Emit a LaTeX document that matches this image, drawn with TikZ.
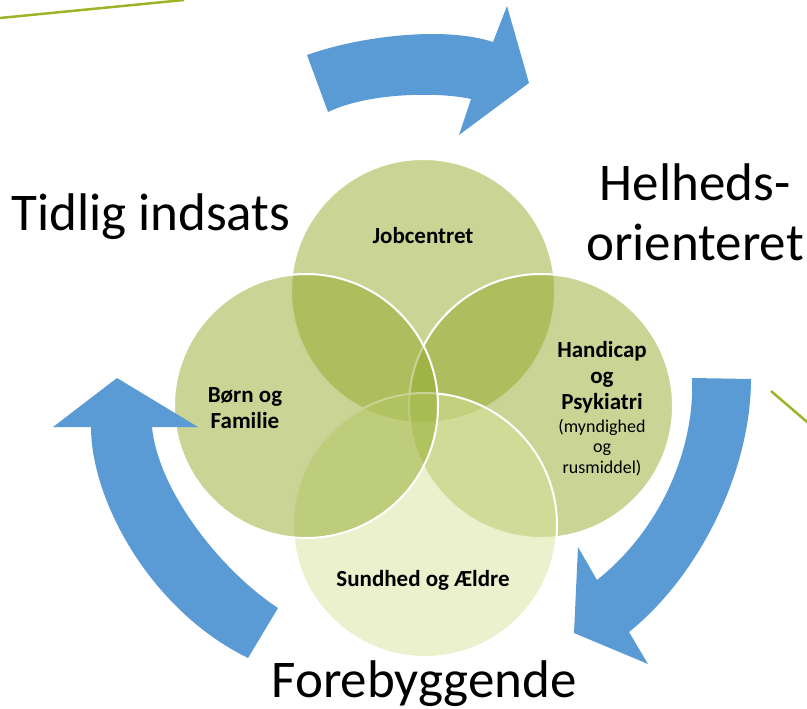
\documentclass[tikz,border=0pt]{standalone}
\usepackage{fontspec}
\setmainfont{Carlito}
\definecolor{vennolive}{HTML}{93A92B}
\definecolor{vennpale}{HTML}{D7E39B}
\definecolor{cyclearrow}{HTML}{5B9BD5}
\definecolor{deco}{HTML}{9BB428}
\tikzset{
  venn/.style={circle,minimum size=264pt,inner sep=0pt,fill opacity=.5,
    draw=white,draw opacity=1,line width=2pt},
  bigtxt/.style={font=\fontsize{53}{60}\selectfont,inner sep=0pt},
  vennlbl/.style={font=\fontsize{23}{26}\selectfont\bfseries,inner sep=0pt,align=center},
  vennnote/.style={font=\fontsize{18}{20.5}\selectfont,inner sep=0pt,align=center},
  cyclearrowfill/.style={fill=cyclearrow}
}
\begin{document}
\begin{tikzpicture}[x=1pt,y=-1pt]
  \useasboundingbox (0,0) rectangle (807,709);

  % decoration lines
  \draw[deco,line width=2.5pt] (0,18) -- (184,0);
  \draw[deco,line width=2.5pt] (771,391) -- (820,433);

  % circles
  \node[venn,fill=vennolive] (job) at (423,291) {};
  \node[venn,fill=vennolive] (handicap) at (541,406) {};
  \node[venn,fill=vennpale] (sundhed) at (425,525) {};
  \node[venn,fill=vennolive] (born) at (306,406) {};

  % circle texts (base = last line)
  \node[vennlbl,anchor=base] (jobtxt) at (423,243) {Jobcentret};
  \node[vennlbl,anchor=base] (sundhedtxt) at (423,586) {Sundhed og Ældre};
  \node[vennlbl,anchor=base] (borntxt) at (245,428) {Børn og\\Familie};
  \node[vennlbl,anchor=base] (handicaptxt) at (602,409) {Handicap\\og\\Psykiatri};
  \node[vennnote,anchor=base] (handicapnote) at (602,473) {(myndighed\\og\\rusmiddel)};

  % arrows
  \fill[cyclearrowfill] (307,55) .. controls (360,36) and (445,26) .. (493,42)
    -- (507,6) -- (529,83) -- (459,135) -- (471,99)
    .. controls (440,92) and (370,92) .. (328,112) -- cycle;
  \fill[cyclearrowfill] (751,379) .. controls (751,470) and (700,575) .. (629,632)
    -- (648,664) -- (574,633) -- (578,547) -- (597,580)
    .. controls (660,530) and (695,450) .. (692,378) -- cycle;
  \fill[cyclearrowfill] (248,658) .. controls (150,610) and (91,500) .. (91,427)
    -- (53,427) -- (117,378) -- (198,427) -- (152,427)
    .. controls (158,490) and (220,570) .. (278,608) -- cycle;

  % cycle texts
  \node[bigtxt,anchor=base] (tidlig) at (151,230) {Tidlig indsats};
  \node[bigtxt,anchor=base,align=center] (helhed) at (695,260) {Helheds-\\orienteret};
  \node[bigtxt,anchor=base] (forebyg) at (424,697) {Forebyggende};
\end{tikzpicture}
\end{document}
